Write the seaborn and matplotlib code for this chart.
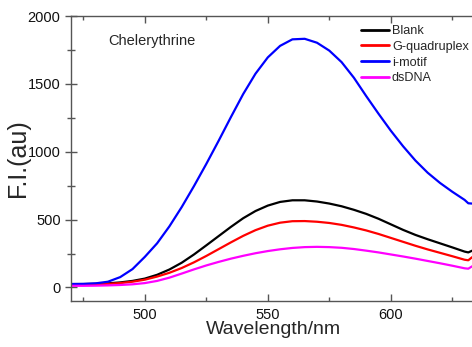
import numpy as np
import pandas as pd
import matplotlib
matplotlib.use("Agg")
import matplotlib.pyplot as plt
import seaborn as sns

# Emission spectra of chelerythrine with different DNA structures
wavelength = [470, 475, 480, 485, 490, 495, 500, 505, 510, 515, 520, 525, 530,
              535, 540, 545, 550, 555, 560, 565, 570, 575, 580, 585, 590, 595,
              600, 605, 610, 615, 620, 625, 630, 631.5, 633, 636]

blank = [25, 25, 27, 30, 37, 48, 65, 93, 132, 182, 243, 310, 378, 446, 510,
         563, 603, 630, 642, 642, 633, 618, 598, 572, 542, 506, 465, 424, 387,
         355, 325, 295, 264, 258, 270, 285]
g_quadruplex = [22, 22, 23, 26, 32, 42, 57, 80, 108, 143, 185, 232, 282, 332,
                380, 422, 455, 477, 488, 489, 484, 475, 461, 442, 420, 394, 365,
                336, 307, 280, 255, 230, 204, 200, 222, 235]
i_motif = [25, 26, 30, 42, 76, 135, 225, 325, 450, 592, 747, 910, 1080, 1255,
           1425, 1575, 1695, 1780, 1828, 1832, 1803, 1745, 1660, 1545, 1410,
           1280, 1155, 1040, 935, 845, 770, 705, 645, 620, 618, 625]
ds_dna = [12, 12, 13, 15, 18, 23, 32, 48, 72, 102, 133, 162, 188, 212, 233,
          252, 268, 281, 291, 297, 299, 297, 292, 283, 271, 258, 243, 228, 212,
          195, 178, 160, 141, 138, 155, 165]

series_names = ["Blank", "G-quadruplex", "i-motif", "dsDNA"]
series_colors = ["#000000", "#ff0000", "#0000ff", "#ff00ff"]

df = pd.concat([
    pd.DataFrame({"Wavelength": wavelength, "FI": vals, "Sample": name})
    for name, vals in zip(series_names, [blank, g_quadruplex, i_motif, ds_dna])
], ignore_index=True)

sns.set_style("ticks")
plt.rcParams["font.family"] = ["Liberation Sans", "DejaVu Sans"]

W, H = 472, 347
fig = plt.figure(figsize=(W / 100, H / 100), dpi=100)
x0, x1 = 470, 640
px_per_nm = 123 / 50.0
left_px, right_px = 71, 71 + (x1 - x0) * px_per_nm
top_px, bottom_px = 16, 301
ax = fig.add_axes([left_px / W, 1 - bottom_px / H,
                   (right_px - left_px) / W, (bottom_px - top_px) / H])

sns.lineplot(data=df, x="Wavelength", y="FI", hue="Sample",
             hue_order=series_names, palette=series_colors,
             linewidth=1.6, ax=ax, legend=False, estimator=None, sort=False,
             solid_joinstyle="round", solid_capstyle="round")

ax.set_xlim(x0, x1)
ax.set_ylim(-100, 2000)
ax.set_xticks([500, 550, 600])
ax.set_xticks([475, 525, 575, 625], minor=True)
ax.set_yticks([0, 500, 1000, 1500, 2000])
ax.set_yticks([250, 750, 1250, 1750], minor=True)
ax.set_xticklabels(["500", "550", "600"])
ax.set_yticklabels(["0", "500", "1000", "1500", "2000"])

for side in ["left", "bottom", "top"]:
    ax.spines[side].set_color("#555555")
    ax.spines[side].set_linewidth(1.0)
ax.spines["right"].set_visible(False)

ax.tick_params(axis="both", which="major", labelsize=10.5, colors="#555555",
               labelcolor="#111111", width=1.0)
ax.tick_params(axis="y", which="major", direction="inout", length=9, pad=3)
ax.tick_params(axis="y", which="minor", direction="inout", length=6,
               width=1.0, colors="#555555")
ax.tick_params(axis="x", which="major", direction="in", length=5, pad=5)
ax.tick_params(axis="x", which="minor", direction="in", length=3,
               width=1.0, colors="#555555")
ax.tick_params(axis="x", which="both", top=True)

ax.set_xlabel("Wavelength/nm", fontsize=14)
ax.set_ylabel("F.I.(au)", fontsize=18)
ax.xaxis.set_label_coords((273 - left_px) / (right_px - left_px), -0.07)
ax.yaxis.set_label_coords(-(left_px - 30) / (right_px - left_px), 0.5)

ax.text(108 / W, 1 - 41 / H, "Chelerythrine", transform=fig.transFigure,
        fontsize=10.5, va="center", ha="left")

handles = [plt.Line2D([], [], color=c, linewidth=2.0) for c in series_colors]
fig.legend(handles, series_names, loc="upper left",
           bbox_to_anchor=(361 / W, 1 - 25 / H), frameon=False, fontsize=9.1,
           handlelength=2.2, handletextpad=0.25, labelspacing=0.3,
           borderpad=0, borderaxespad=0)

fig.savefig("out.png", dpi=100)
